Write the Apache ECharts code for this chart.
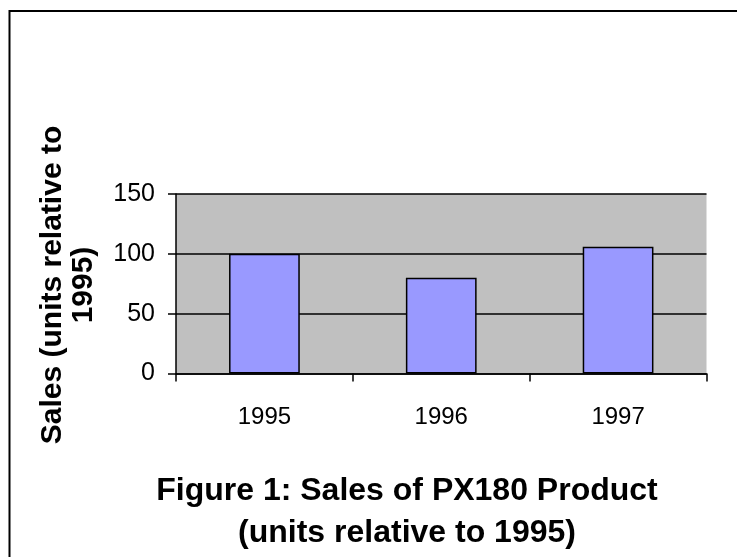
<!DOCTYPE html>
<html>
<head>
<meta charset="utf-8">
<title>Sales of PX180 Product</title>
<script src="https://cdn.jsdelivr.net/npm/echarts@6/dist/echarts.min.js"></script>
<style>
  html, body { margin: 0; padding: 0; background: #ffffff; }
  #chart { width: 737px; height: 557px; }
</style>
</head>
<body>
<div id="chart"></div>
<script>
// Yearly sales, indexed to 1995 = 100
const years = ['1995', '1996', '1997'];
const sales = [100, 80, 106];
const yTicks = { min: 0, max: 150, interval: 50 };

const titleText = 'Figure 1: Sales of PX180 Product\n(units relative to 1995)';
const yAxisTitle = 'Sales (units relative to\n1995)';

const FONT = '"Liberation Sans", Arial, Helvetica, sans-serif';

const chart = echarts.init(document.getElementById('chart'), null, { renderer: 'canvas' });

chart.setOption({
  animation: false,
  backgroundColor: '#ffffff',
  title: {
    text: titleText,
    left: 402,
    top: 465,
    textAlign: 'center',
    textStyle: {
      fontFamily: FONT,
      fontSize: 32,
      fontWeight: 'bold',
      color: '#000000',
      lineHeight: 42
    }
  },
  grid: {
    left: 176,
    top: 194,
    right: 30.5,
    bottom: 183.5,
    show: true,
    backgroundColor: '#c0c0c0',
    borderWidth: 0
  },
  xAxis: {
    type: 'category',
    data: years,
    axisLine: { show: true, lineStyle: { color: '#000000', width: 1.5 } },
    axisTick: { show: true, length: 8, lineStyle: { color: '#000000', width: 1.5 } },
    axisLabel: {
      fontFamily: FONT,
      fontSize: 24,
      color: '#000000',
      margin: 32
    },
    splitLine: { show: false }
  },
  yAxis: {
    type: 'value',
    min: yTicks.min,
    max: yTicks.max,
    interval: yTicks.interval,
    axisLine: { show: true, lineStyle: { color: '#000000', width: 1.5 } },
    axisTick: { show: true, length: 8, lineStyle: { color: '#000000', width: 1.5 } },
    axisLabel: {
      fontFamily: FONT,
      fontSize: 25,
      color: '#000000',
      margin: 21,
      padding: [6, 0, 0, 0]
    },
    splitLine: { show: true, lineStyle: { color: '#000000', width: 1.5 } }
  },
  series: [{
    type: 'bar',
    data: sales,
    barCategoryGap: '60%',
    itemStyle: {
      color: '#9999ff',
      borderColor: '#000000',
      borderWidth: 1.5
    }
  }],
  graphic: [
    {
      // outer chart frame (open on the right and bottom edges of the page)
      type: 'rect',
      shape: { x: 9.5, y: 11, width: 800, height: 700 },
      style: { fill: 'none', stroke: '#000000', lineWidth: 2 },
      silent: true,
      z: 100
    },
    {
      type: 'text',
      x: 68,
      y: 285,
      rotation: Math.PI / 2,
      style: {
        text: yAxisTitle,
        fontFamily: FONT,
        fontSize: 30,
        fontWeight: 'bold',
        fill: '#000000',
        lineHeight: 31,
        align: 'center',
        verticalAlign: 'middle'
      }
    }
  ]
});
</script>
</body>
</html>
